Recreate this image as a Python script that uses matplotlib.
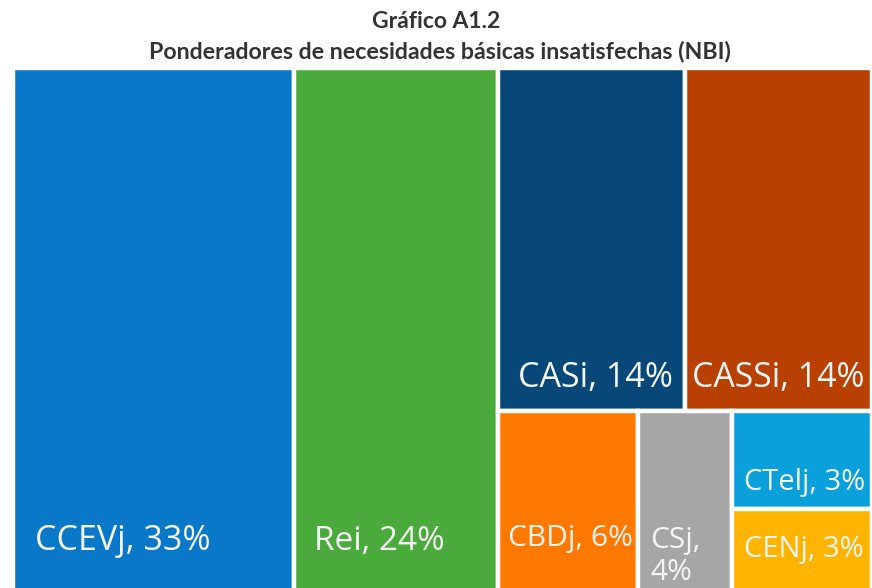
import matplotlib
matplotlib.use("Agg")
import matplotlib.pyplot as plt
from matplotlib.patches import Rectangle
import matplotlib.transforms as mtransforms

# ---- data ----
labels = ["CCEVj", "Rei", "CASi", "CASSi", "CBDj", "CSj", "CTelj", "CENj"]
values = [33, 24, 14, 14, 6, 4, 3, 3]
colors = ["#0A78C8", "#4BAA3C", "#074878", "#B84000", "#FF7800", "#A6A6A6", "#0AA0DC", "#FFB400"]
title_lines = ["Gráfico A1.2", "Ponderadores de necesidades básicas insatisfechas (NBI)"]

# label style: text, dx px from left, dy px (baseline above bottom), font size
label_text = ["CCEVj, 33%", "Rei, 24%", "CASi, 14%", "CASSi, 14%", "CBDj, 6%", "CSj,\n4%", "CTelj, 3%", "CENj, 3%"]
label_dx = [22, 20, 20, 7, 10, 12, 12, 12]
label_dy = [57, 57, 24, 24, 61, 27, 19, 50]
label_fs = [24.5, 24, 24.5, 24.4, 21.5, 21.5, 21, 21]

W, H = 872, 588
fig = plt.figure(figsize=(W / 100, H / 100), dpi=100)
top_px, left_px, bottom_px = 68, 13, 607
ax = fig.add_axes([left_px / W, 1 - bottom_px / H, (W - left_px) / W, (bottom_px - top_px) / H])
ax.set_xlim(0, 1)
ax.set_ylim(0, 1)
ax.axis("off")

total = sum(values)
v = dict(zip(labels, values))
rects = {}
x = 0.0
for name in ["CCEVj", "Rei"]:
    w = v[name] / total
    rects[name] = (x, 0.0, w, 1.0)
    x += w
right_w = 1.0 - x
right_sum = sum(values[2:])
top_sum = v["CASi"] + v["CASSi"]
top_h = top_sum / right_sum
xx = x
for name in ["CASi", "CASSi"]:
    w = right_w * v[name] / top_sum
    rects[name] = (xx, 1 - top_h, w, top_h)
    xx += w
bot_h = 1 - top_h
bot_sum = right_sum - top_sum
xx = x
for name in ["CBDj", "CSj"]:
    w = right_w * v[name] / bot_sum
    rects[name] = (xx, 0.0, w, bot_h)
    xx += w
stack_w = right_w * (v["CTelj"] + v["CENj"]) / bot_sum
h1 = bot_h * v["CTelj"] / (v["CTelj"] + v["CENj"])
rects["CTelj"] = (xx, bot_h - h1, stack_w, h1)
rects["CENj"] = (xx, 0.0, stack_w, bot_h - h1)

for i, name in enumerate(labels):
    rx, ry, rw, rh = rects[name]
    ax.add_patch(Rectangle((rx, ry), rw, rh, facecolor=colors[i], edgecolor="white", linewidth=3.2, clip_on=False))
    tr = ax.transData + mtransforms.ScaledTranslation(label_dx[i] / 100, label_dy[i] / 100, fig.dpi_scale_trans)
    ax.text(rx, ry, label_text[i], transform=tr, ha="left", va="baseline",
            color="#F5F5F5", fontsize=label_fs[i], family="Open Sans", linespacing=1.12)

fig.text(0.5005, 1 - 22 / H, title_lines[0], ha="center", va="center", fontsize=16.5,
         fontweight="bold", family="Lato", color="#333333")
fig.text(0.505, 1 - 52 / H, title_lines[1], ha="center", va="center", fontsize=16.7,
         fontweight="bold", family="Lato", color="#333333")

fig.savefig("out.png", dpi=100)
